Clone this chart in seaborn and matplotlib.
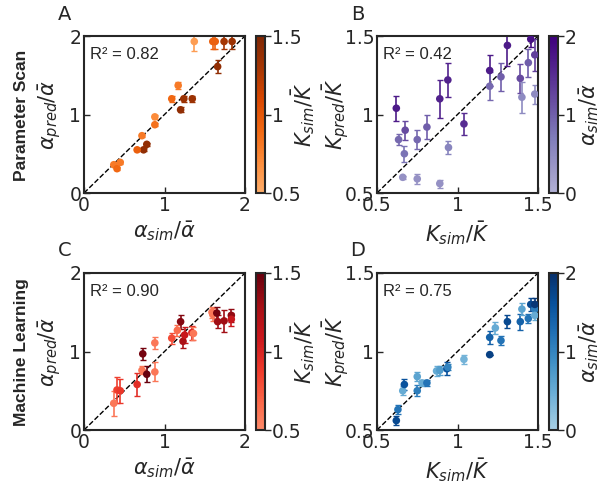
import numpy as np
import pandas as pd
import matplotlib
matplotlib.use("Agg")
import matplotlib.pyplot as plt
import seaborn as sns
from matplotlib.colors import ListedColormap, Normalize
from matplotlib.cm import ScalarMappable

# --- A: parameter scan, alpha (colour = K_sim/K)
a_x = [1.37, 1.60, 1.63, 1.74, 1.84, 1.66, 1.17, 1.09, 1.24, 1.345, 1.20, 0.88, 0.88, 0.72, 0.78, 0.74, 0.66, 0.37, 0.45, 0.41]
a_y = [1.93, 1.93, 1.93, 1.93, 1.93, 1.61, 1.37, 1.20, 1.20, 1.20, 1.06, 0.97, 0.87, 0.73, 0.62, 0.55, 0.55, 0.36, 0.39, 0.31]
a_err = [0.12, 0.10, 0.10, 0.10, 0.10, 0.08, 0.05, 0.04, 0.04, 0.04, 0.03, 0.03, 0.02, 0.02, 0.02, 0.02, 0.02, 0.02, 0.02, 0.02]
a_c = [0.6, 0.95, 0.95, 1.3, 1.35, 1.4, 0.8, 0.9, 1.35, 1.35, 1.4, 0.7, 0.85, 0.8, 1.4, 1.4, 0.95, 0.8, 0.8, 0.9]

# --- B: parameter scan, K (colour = alpha_sim/alpha)
b_x = [0.62, 0.634, 0.675, 0.67, 0.66, 0.75, 0.75, 0.81, 0.89, 0.94, 0.89, 0.944, 1.04, 1.20, 1.20, 1.27, 1.31, 1.39, 1.40, 1.44, 1.455, 1.48, 1.48]
b_y = [1.04, 0.84, 0.90, 0.75, 0.60, 0.84, 0.59, 0.92, 1.10, 1.22, 0.56, 0.79, 0.94, 1.28, 1.18, 1.24, 1.44, 1.23, 1.11, 1.33, 1.48, 1.38, 1.13]
b_err = [0.08, 0.035, 0.06, 0.05, 0.01, 0.06, 0.03, 0.075, 0.12, 0.11, 0.025, 0.04, 0.07, 0.10, 0.09, 0.09, 0.13, 0.09, 0.10, 0.09, 0.05, 0.10, 0.06]
b_c = [1.7, 0.9, 1.2, 0.8, 0.4, 0.9, 0.4, 1.0, 1.6, 1.6, 0.4, 0.6, 1.5, 1.7, 0.9, 1.0, 1.7, 1.2, 0.5, 1.0, 1.8, 1.3, 0.5]

# --- C: machine learning, alpha (colour = K_sim/K)
c_x = [0.37, 0.41, 0.45, 0.66, 0.72, 0.73, 0.78, 0.88, 0.88, 1.09, 1.16, 1.20, 1.23, 1.25, 1.34, 1.36, 1.59, 1.60, 1.65, 1.66, 1.74, 1.83, 1.83]
c_y = [0.34, 0.51, 0.50, 0.58, 0.76, 0.97, 0.71, 0.74, 1.11, 1.17, 1.27, 1.38, 1.13, 1.21, 1.24, 1.23, 1.50, 1.47, 1.49, 1.38, 1.39, 1.46, 1.41]
c_err = [0.16, 0.17, 0.15, 0.15, 0.05, 0.08, 0.10, 0.12, 0.08, 0.07, 0.07, 0.09, 0.09, 0.10, 0.09, 0.08, 0.07, 0.08, 0.08, 0.08, 0.14, 0.08, 0.08]
c_c = [0.6, 0.85, 0.9, 0.95, 0.6, 1.45, 1.5, 0.6, 0.6, 0.8, 0.65, 1.4, 1.25, 1.1, 1.0, 0.6, 0.6, 0.6, 1.45, 1.3, 1.3, 1.35, 1.1]

# --- D: machine learning, K (colour = alpha_sim/alpha)
d_x = [0.62, 0.63, 0.66, 0.67, 0.75, 0.75, 0.78, 0.81, 0.87, 0.89, 0.934, 0.94, 1.04, 1.20, 1.20, 1.235, 1.27, 1.31, 1.39, 1.40, 1.44, 1.455, 1.48, 1.48, 1.48]
d_y = [0.56, 0.63, 0.75, 0.79, 0.84, 0.75, 0.80, 0.80, 0.876, 0.88, 0.89, 0.90, 0.95, 1.09, 0.98, 1.15, 1.07, 1.19, 1.19, 1.27, 1.21, 1.30, 1.27, 1.30, 1.23]
d_err = [0.03, 0.03, 0.03, 0.035, 0.03, 0.035, 0.02, 0.02, 0.03, 0.03, 0.04, 0.02, 0.03, 0.04, 0.0, 0.04, 0.03, 0.04, 0.05, 0.04, 0.03, 0.04, 0.04, 0.04, 0.03]
d_c = [1.7, 1.2, 0.5, 1.6, 0.6, 1.1, 0.5, 1.2, 0.5, 0.7, 1.6, 1.0, 0.4, 1.4, 1.8, 0.5, 1.2, 1.7, 1.4, 0.6, 1.2, 1.7, 1.1, 1.9, 0.5]

lab_a = r"$\alpha_{sim}/\bar{\alpha}$"
lab_ap = r"$\alpha_{pred}/\bar{\alpha}$"
lab_k = r"$K_{sim}/\bar{K}$"
lab_kp = r"$K_{pred}/\bar{K}$"


def trunc(name, lo=0.38, hi=1.0):
    return ListedColormap(plt.get_cmap(name)(np.linspace(lo, hi, 256)))


sns.set_style("ticks")
plt.rcParams["font.family"] = ["DejaVu Sans"]
plt.rcParams["axes.linewidth"] = 1.5

fig = plt.figure(figsize=(5.97, 4.86), dpi=100)

panels = [
    # x, y, err, c, cmap, lims, ticks, cbar lims, cbar ticks, xlabel, ylabel, cbar label, r2, letter, pos, ylabel pad, cbar pad
    (a_x, a_y, a_err, a_c, trunc("Oranges"), (0, 2), [0, 1, 2], (0.5, 1.5), [0.5, 1, 1.5],
     lab_a, lab_ap, lab_k, "0.82", "A", (84, 36), 4, -9),
    (b_x, b_y, b_err, b_c, trunc("Purples", 0.42), (0.5, 1.5), [0.5, 1, 1.5], (0, 2), [0, 1, 2],
     lab_k, lab_kp, lab_a, "0.42", "B", (377, 36), -5, 0),
    (c_x, c_y, c_err, c_c, trunc("Reds", 0.4), (0, 2), [0, 1, 2], (0.5, 1.5), [0.5, 1, 1.5],
     lab_a, lab_ap, lab_k, "0.90", "C", (84, 273), 4, -9),
    (d_x, d_y, d_err, d_c, trunc("Blues", 0.35), (0.5, 1.5), [0.5, 1, 1.5], (0, 2), [0, 1, 2],
     lab_k, lab_kp, lab_a, "0.75", "D", (377, 273), -5, 0),
]

W, H = 597, 486
for (x, y, err, c, cmap, lims, ticks, clims, cticks, xl, yl, cl, r2, letter, (px, py), ypad, cpad) in panels:
    ax = fig.add_axes([px / W, 1 - (py + 157) / H, 161 / W, 157 / H])
    cax = fig.add_axes([(px + 172) / W, 1 - (py + 157) / H, 9 / W, 157 / H])
    norm = Normalize(*clims)
    df = pd.DataFrame({"x": x, "y": y, "err": err, "c": c})

    ax.plot(lims, lims, "k--", lw=1, zorder=1)
    for _, r in df.iterrows():
        ax.errorbar(r["x"], r["y"], yerr=r["err"], fmt="none", ecolor=cmap(norm(r["c"])),
                    elinewidth=1.2, capsize=2, capthick=1, zorder=2)
    sns.scatterplot(data=df, x="x", y="y", hue="c", palette=cmap, hue_norm=norm,
                    s=30, linewidth=0, legend=False, ax=ax, zorder=3)

    ax.set_xlim(lims)
    ax.set_ylim(lims)
    ax.set_xticks(ticks)
    ax.set_yticks(ticks)
    ax.set_xticklabels([f"{t:g}" for t in ticks])
    ax.set_yticklabels([f"{t:g}" for t in ticks])
    ax.tick_params(direction="in", length=4, width=1, labelsize=13.5, pad=2)
    ax.set_xlabel(xl, fontsize=15, labelpad=3)
    ax.set_ylabel(yl, fontsize=15, labelpad=ypad)
    ax.text(0.04, 0.93, "R² = " + r2, transform=ax.transAxes, ha="left", va="top",
            fontsize=12, family="Liberation Sans")
    fig.text((px - 19) / W, 1 - 14 / H - (py - 36) / H, letter, fontsize=14,
             ha="center", va="center")

    cb = fig.colorbar(ScalarMappable(norm=norm, cmap=cmap), cax=cax)
    cb.set_ticks(cticks)
    cb.set_ticklabels([f"{t:g}" for t in cticks])
    cb.ax.tick_params(labelsize=13.5, length=4, width=1, pad=1)
    cb.outline.set_linewidth(1.5)
    cb.set_label(cl, fontsize=15, labelpad=cpad)

fig.text(22 / W, 1 - 115 / H, "Parameter Scan", rotation=90, fontsize=12.5,
         fontweight="bold", family="Liberation Sans", ha="center", va="center")
fig.text(22 / W, 1 - 352 / H, "Machine Learning", rotation=90, fontsize=12.5,
         fontweight="bold", family="Liberation Sans", ha="center", va="center")

fig.savefig("out.png", dpi=100)
